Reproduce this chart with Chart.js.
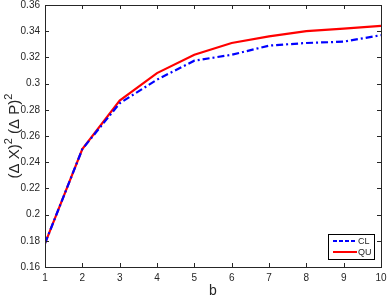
<!DOCTYPE html>
<html>
<head>
<meta charset="utf-8">
<script src="https://cdn.jsdelivr.net/npm/chart.js@4.4.1/dist/chart.umd.min.js"></script>
<style>
  html, body { margin: 0; padding: 0; background: #fff; }
  #wrap { width: 387px; height: 300px; }
</style>
</head>
<body>
<div id="wrap"><canvas id="chart" width="387" height="300"></canvas></div>
<script>
// data
const bValues = [1, 2, 3, 4, 5, 6, 7, 8, 9, 10];
const clValues = [0.178, 0.250, 0.285, 0.303, 0.3175, 0.322, 0.329, 0.331, 0.332, 0.337];
const quValues = [0.178, 0.250, 0.287, 0.308, 0.322, 0.331, 0.336, 0.340, 0.342, 0.344];
const xTicks = [1, 2, 3, 4, 5, 6, 7, 8, 9, 10];
const yTicks = [0.16, 0.18, 0.2, 0.22, 0.24, 0.26, 0.28, 0.3, 0.32, 0.34, 0.36];

const axisColor = '#262626';
const fontFamily = 'Liberation Sans, Arial, sans-serif';

// ticks pointing inward + box + y label + legend (matlab style)
const boxPlugin = {
  id: 'boxPlugin',
  afterDraw(chart) {
    const ctx = chart.ctx;
    const a = chart.chartArea;
    const xs = chart.scales.x;
    const ys = chart.scales.y;
    ctx.save();
    ctx.strokeStyle = axisColor;
    ctx.lineWidth = 1;
    ctx.strokeRect(Math.round(a.left) + 0.5, Math.round(a.top) + 0.5, Math.round(a.right - a.left), Math.round(a.bottom - a.top));
    ctx.beginPath();
    xTicks.forEach(v => {
      const px = Math.round(xs.getPixelForValue(v)) + 0.5;
      ctx.moveTo(px, a.bottom); ctx.lineTo(px, a.bottom - 4);
      ctx.moveTo(px, a.top); ctx.lineTo(px, a.top + 4);
    });
    yTicks.forEach(v => {
      const py = Math.round(ys.getPixelForValue(v)) + 0.5;
      ctx.moveTo(a.left, py); ctx.lineTo(a.left + 4, py);
      ctx.moveTo(a.right, py); ctx.lineTo(a.right - 4, py);
    });
    ctx.stroke();

    // y label with real superscripts
    const parts = [['(\u0394 X)', 15, 0], ['2', 11, -7], [' (\u0394 P)', 15, 0], ['2', 11, -7]];
    let total = 0;
    parts.forEach(p => { ctx.font = p[1] + 'px ' + fontFamily; total += ctx.measureText(p[0]).width; });
    ctx.translate(19, (a.top + a.bottom) / 2);
    ctx.rotate(-Math.PI / 2);
    ctx.fillStyle = axisColor;
    ctx.textBaseline = 'alphabetic';
    let cx = -total / 2;
    parts.forEach(p => {
      ctx.font = p[1] + 'px ' + fontFamily;
      ctx.fillText(p[0], cx, p[2]);
      cx += ctx.measureText(p[0]).width;
    });
    ctx.setTransform(1, 0, 0, 1, 0, 0);

    // legend
    const lx = 328, ly = 234, lw = 46, lh = 25;
    ctx.fillStyle = '#fff';
    ctx.fillRect(lx, ly, lw, lh);
    ctx.strokeStyle = '#000';
    ctx.lineWidth = 1;
    ctx.strokeRect(lx + 0.5, ly + 0.5, lw, lh);
    chart.data.datasets.forEach((ds, i) => {
      const yy = ly + 7 + i * 11;
      ctx.strokeStyle = ds.borderColor;
      ctx.lineWidth = 2;
      ctx.setLineDash(i === 0 ? [4, 2] : []);
      ctx.beginPath();
      ctx.moveTo(lx + 5, yy); ctx.lineTo(lx + 29, yy);
      ctx.stroke();
      ctx.setLineDash([]);
      ctx.fillStyle = axisColor;
      ctx.font = '9px ' + fontFamily;
      ctx.textBaseline = 'middle';
      ctx.fillText(ds.label, lx + 30, yy + 0.5);
    });
    ctx.restore();
  }
};

new Chart(document.getElementById('chart'), {
  type: 'line',
  data: {
    labels: bValues,
    datasets: [
      {
        label: 'CL',
        data: bValues.map((b, i) => ({ x: b, y: clValues[i] })),
        borderColor: '#0000ff',
        borderWidth: 2.2,
        borderDash: [7, 3, 2, 3],
        pointRadius: 0,
        tension: 0,
        fill: false
      },
      {
        label: 'QU',
        data: bValues.map((b, i) => ({ x: b, y: quValues[i] })),
        borderColor: '#ff0000',
        borderWidth: 2.2,
        pointRadius: 0,
        tension: 0,
        fill: false
      }
    ]
  },
  options: {
    responsive: false,
    animation: false,
    layout: { padding: { top: 5, right: 6, left: 0, bottom: 0 } },
    plugins: { legend: { display: false }, tooltip: { enabled: false } },
    scales: {
      x: {
        type: 'linear',
        min: 1,
        max: 10,
        grid: { display: false, drawTicks: false },
        border: { display: false },
        afterBuildTicks: s => { s.ticks = xTicks.map(v => ({ value: v })); },
        afterFit: s => { s.height = 33; s.paddingLeft = 0; s.paddingRight = 0; },
        ticks: { color: axisColor, font: { family: fontFamily, size: 10 }, padding: 5, maxRotation: 0 },
        title: { display: true, text: 'b', color: axisColor, font: { family: fontFamily, size: 14 }, padding: { top: 0, bottom: 0 } }
      },
      y: {
        min: 0.16,
        max: 0.36,
        grid: { display: false, drawTicks: false },
        border: { display: false },
        afterBuildTicks: s => { s.ticks = yTicks.map(v => ({ value: v })); },
        afterFit: s => { s.width = 45; s.paddingTop = 0; s.paddingBottom = 0; },
        ticks: {
          color: axisColor,
          font: { family: fontFamily, size: 10 },
          padding: 5,
          callback: v => String(parseFloat(v.toFixed(2)))
        },
        title: { display: false }
      }
    }
  },
  plugins: [boxPlugin]
});
</script>
</body>
</html>
